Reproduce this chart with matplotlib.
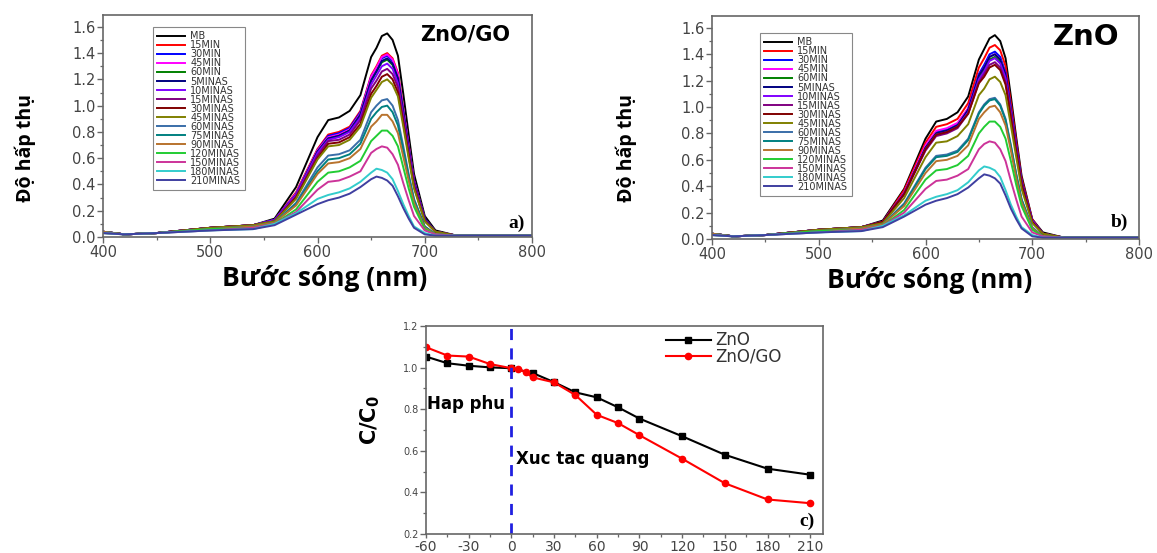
import matplotlib
matplotlib.use("Agg")
import matplotlib.pyplot as plt
from matplotlib.ticker import MultipleLocator

# ---------------- data ----------------
wavelength = [400, 420, 450, 500, 540, 560, 580, 600, 610, 620, 630, 640, 650, 655,
              660, 665, 670, 675, 680, 685, 690, 700, 710, 730, 800]

series_labels = ["MB", "15MIN", "30MIN", "45MIN", "60MIN", "5MINAS", "10MINAS", "15MINAS",
                 "30MINAS", "45MINAS", "60MINAS", "75MINAS", "90MINAS", "120MINAS",
                 "150MINAS", "180MINAS", "210MINAS"]
series_colors = ["#000000", "#FF0000", "#0000FF", "#FF00FF", "#008000", "#000080", "#8000FF",
                 "#800080", "#800000", "#808000", "#3A6EA8", "#008080", "#B8732E", "#22CC33",
                 "#CC3399", "#33CCCC", "#3F3FA0"]

# Panel a) ZnO/GO absorbance
GO_MB = [0.04,0.02,0.03,0.07,0.09,0.14,0.38,0.76,0.89,0.91,0.96,1.08,1.37,1.44,1.53,1.55,1.50,1.38,1.09,0.78,0.48,0.16,0.05,0.01,0.01]
GO_15MIN = [0.04,0.02,0.03,0.07,0.09,0.13,0.34,0.67,0.78,0.80,0.84,0.96,1.23,1.30,1.38,1.40,1.36,1.25,0.98,0.70,0.43,0.14,0.04,0.01,0.01]
GO_30MIN = [0.04,0.02,0.03,0.07,0.09,0.13,0.33,0.66,0.77,0.79,0.83,0.95,1.22,1.28,1.36,1.38,1.34,1.23,0.97,0.69,0.43,0.14,0.04,0.01,0.01]
GO_45MIN = [0.04,0.02,0.03,0.07,0.09,0.13,0.33,0.66,0.76,0.78,0.82,0.94,1.22,1.29,1.37,1.39,1.35,1.24,0.97,0.70,0.43,0.14,0.04,0.01,0.01]
GO_60MIN = [0.04,0.02,0.03,0.07,0.09,0.13,0.32,0.65,0.75,0.77,0.81,0.93,1.19,1.26,1.33,1.35,1.31,1.20,0.95,0.68,0.42,0.14,0.04,0.01,0.01]
GO_5MINAS = [0.04,0.02,0.03,0.07,0.09,0.13,0.32,0.65,0.75,0.77,0.81,0.93,1.19,1.26,1.34,1.36,1.32,1.21,0.95,0.68,0.42,0.14,0.04,0.01,0.01]
GO_10MINAS = [0.04,0.02,0.03,0.07,0.09,0.13,0.32,0.64,0.74,0.76,0.80,0.91,1.16,1.23,1.30,1.32,1.28,1.17,0.92,0.66,0.41,0.13,0.04,0.01,0.01]
GO_15MINAS = [0.04,0.02,0.03,0.07,0.09,0.12,0.31,0.62,0.73,0.74,0.78,0.89,1.13,1.19,1.26,1.28,1.24,1.14,0.90,0.64,0.40,0.13,0.04,0.01,0.01]
GO_30MINAS = [0.04,0.02,0.03,0.07,0.09,0.12,0.30,0.60,0.71,0.72,0.76,0.86,1.09,1.15,1.22,1.24,1.20,1.10,0.87,0.62,0.38,0.12,0.04,0.01,0.01]
GO_45MINAS = [0.04,0.02,0.03,0.07,0.09,0.12,0.29,0.59,0.69,0.70,0.74,0.84,1.06,1.12,1.18,1.20,1.16,1.07,0.84,0.60,0.37,0.12,0.04,0.01,0.01]
GO_60MINAS = [0.04,0.02,0.03,0.06,0.08,0.11,0.26,0.53,0.62,0.63,0.66,0.74,0.95,1.00,1.04,1.05,1.00,0.89,0.69,0.48,0.29,0.08,0.02,0.01,0.01]
GO_75MINAS = [0.04,0.02,0.03,0.06,0.08,0.11,0.25,0.50,0.59,0.60,0.63,0.71,0.90,0.95,0.99,1.00,0.95,0.85,0.66,0.46,0.28,0.08,0.02,0.01,0.01]
GO_90MINAS = [0.04,0.02,0.03,0.06,0.08,0.11,0.24,0.48,0.56,0.57,0.60,0.67,0.84,0.88,0.93,0.93,0.88,0.79,0.61,0.43,0.26,0.07,0.02,0.01,0.01]
GO_120MINAS = [0.03,0.02,0.03,0.06,0.07,0.10,0.21,0.42,0.49,0.50,0.53,0.58,0.73,0.77,0.81,0.81,0.77,0.69,0.53,0.37,0.23,0.06,0.02,0.01,0.01]
GO_150MINAS = [0.03,0.02,0.03,0.05,0.07,0.10,0.19,0.36,0.42,0.43,0.46,0.50,0.64,0.67,0.69,0.68,0.63,0.55,0.41,0.28,0.16,0.05,0.02,0.01,0.01]
GO_180MINAS = [0.03,0.02,0.03,0.05,0.06,0.10,0.18,0.29,0.32,0.34,0.37,0.42,0.49,0.52,0.51,0.49,0.44,0.35,0.25,0.16,0.08,0.03,0.01,0.01,0.01]
GO_210MINAS = [0.03,0.02,0.03,0.05,0.06,0.09,0.17,0.25,0.28,0.30,0.33,0.38,0.44,0.46,0.45,0.43,0.39,0.31,0.22,0.14,0.07,0.02,0.01,0.01,0.01]

# Panel b) ZnO absorbance
ZN_MB = [0.04,0.02,0.03,0.07,0.09,0.14,0.38,0.76,0.89,0.91,0.96,1.08,1.36,1.44,1.52,1.545,1.50,1.37,1.08,0.77,0.48,0.15,0.05,0.01,0.01]
ZN_15MIN = [0.04,0.02,0.03,0.07,0.09,0.13,0.37,0.73,0.85,0.87,0.91,1.03,1.30,1.37,1.45,1.47,1.43,1.31,1.03,0.74,0.46,0.15,0.04,0.01,0.01]
ZN_30MIN = [0.04,0.02,0.03,0.07,0.09,0.13,0.35,0.70,0.81,0.83,0.87,0.99,1.25,1.32,1.40,1.42,1.38,1.26,0.99,0.71,0.44,0.14,0.04,0.01,0.01]
ZN_45MIN = [0.04,0.02,0.03,0.07,0.09,0.13,0.35,0.71,0.82,0.84,0.88,0.99,1.24,1.30,1.38,1.40,1.36,1.25,0.98,0.70,0.43,0.14,0.04,0.01,0.01]
ZN_60MIN = [0.04,0.02,0.03,0.07,0.09,0.13,0.34,0.69,0.80,0.82,0.86,0.97,1.22,1.28,1.36,1.38,1.34,1.23,0.97,0.69,0.43,0.14,0.04,0.01,0.01]
ZN_5MINAS = [0.04,0.02,0.03,0.07,0.09,0.13,0.34,0.69,0.80,0.82,0.86,0.98,1.24,1.30,1.38,1.40,1.36,1.25,0.98,0.70,0.43,0.14,0.04,0.01,0.01]
ZN_10MINAS = [0.04,0.02,0.03,0.07,0.09,0.13,0.34,0.68,0.79,0.81,0.85,0.96,1.21,1.27,1.35,1.37,1.33,1.22,0.96,0.69,0.42,0.14,0.04,0.01,0.01]
ZN_15MINAS = [0.04,0.02,0.03,0.07,0.09,0.13,0.34,0.67,0.78,0.80,0.84,0.95,1.19,1.25,1.32,1.34,1.30,1.19,0.94,0.67,0.42,0.13,0.04,0.01,0.01]
ZN_30MINAS = [0.04,0.02,0.03,0.07,0.09,0.13,0.34,0.68,0.79,0.81,0.85,0.95,1.18,1.23,1.30,1.32,1.28,1.17,0.92,0.66,0.41,0.13,0.04,0.01,0.01]
ZN_45MINAS = [0.04,0.02,0.03,0.07,0.09,0.12,0.31,0.62,0.73,0.74,0.78,0.87,1.09,1.14,1.21,1.23,1.19,1.09,0.86,0.62,0.38,0.12,0.04,0.01,0.01]
ZN_60MINAS = [0.04,0.02,0.03,0.06,0.08,0.11,0.27,0.54,0.63,0.64,0.67,0.76,0.96,1.02,1.06,1.07,1.02,0.91,0.71,0.49,0.30,0.09,0.02,0.01,0.01]
ZN_75MINAS = [0.04,0.02,0.03,0.06,0.08,0.11,0.26,0.53,0.62,0.63,0.66,0.75,0.95,1.01,1.05,1.06,1.01,0.90,0.70,0.49,0.30,0.08,0.02,0.01,0.01]
ZN_90MINAS = [0.04,0.02,0.03,0.06,0.08,0.11,0.25,0.50,0.59,0.60,0.63,0.71,0.91,0.96,1.00,1.01,0.96,0.86,0.67,0.46,0.28,0.08,0.02,0.01,0.01]
ZN_120MINAS = [0.03,0.02,0.03,0.06,0.07,0.10,0.22,0.45,0.52,0.53,0.56,0.63,0.80,0.85,0.89,0.89,0.85,0.76,0.59,0.41,0.25,0.07,0.02,0.01,0.01]
ZN_150MINAS = [0.03,0.02,0.03,0.05,0.07,0.10,0.20,0.38,0.44,0.45,0.48,0.53,0.68,0.72,0.74,0.73,0.68,0.59,0.44,0.30,0.17,0.05,0.02,0.01,0.01]
ZN_180MINAS = [0.03,0.02,0.03,0.05,0.06,0.10,0.18,0.29,0.32,0.34,0.37,0.43,0.52,0.55,0.54,0.52,0.47,0.37,0.26,0.17,0.09,0.03,0.01,0.01,0.01]
ZN_210MINAS = [0.03,0.02,0.03,0.05,0.06,0.09,0.17,0.26,0.29,0.31,0.34,0.39,0.46,0.49,0.48,0.46,0.42,0.33,0.23,0.15,0.08,0.02,0.01,0.01,0.01]

# Panel c) C/C0 vs time
time_zno = [-60, -45, -30, -15, 0, 15, 30, 45, 60, 75, 90, 120, 150, 180, 210]
cc0_zno = [1.053, 1.021, 1.009, 1.001, 0.997, 0.974, 0.930, 0.881, 0.857, 0.809, 0.755, 0.670, 0.581, 0.514, 0.485]
time_zngo = [-60, -45, -30, -15, 0, 5, 10, 15, 30, 45, 60, 75, 90, 120, 150, 180, 210]
cc0_zngo = [1.098, 1.058, 1.053, 1.017, 0.997, 0.994, 0.977, 0.953, 0.929, 0.868, 0.773, 0.733, 0.675, 0.562, 0.444, 0.366, 0.348]
time_ticks = [-60, -30, 0, 30, 60, 90, 120, 150, 180, 210]

spectra_a = [GO_MB, GO_15MIN, GO_30MIN, GO_45MIN, GO_60MIN, GO_5MINAS, GO_10MINAS, GO_15MINAS,
             GO_30MINAS, GO_45MINAS, GO_60MINAS, GO_75MINAS, GO_90MINAS, GO_120MINAS,
             GO_150MINAS, GO_180MINAS, GO_210MINAS]
spectra_b = [ZN_MB, ZN_15MIN, ZN_30MIN, ZN_45MIN, ZN_60MIN, ZN_5MINAS, ZN_10MINAS, ZN_15MINAS,
             ZN_30MINAS, ZN_45MINAS, ZN_60MINAS, ZN_75MINAS, ZN_90MINAS, ZN_120MINAS,
             ZN_150MINAS, ZN_180MINAS, ZN_210MINAS]

# ---------------- style ----------------
plt.rcParams['font.family'] = ['DejaVu Sans']
plt.rcParams['axes.unicode_minus'] = False
SPINE = "#666666"
TICKC = "#444444"
VIET = ['Open Sans', 'DejaVu Sans']
SERIF = ['Liberation Serif', 'DejaVu Serif']

W, H = 1157, 553
fig = plt.figure(figsize=(W / 100, H / 100), dpi=100)


def px_axes(l, t, r, b):
    return fig.add_axes([l / W, 1 - b / H, (r - l) / W, (b - t) / H])


def style_axes(ax, xsize, ysize):
    for s in ax.spines.values():
        s.set_color(SPINE)
        s.set_linewidth(1.2)
    ax.tick_params(which='both', direction='out', colors=SPINE, labelcolor=TICKC)
    ax.tick_params(which='major', length=4, width=1.0)
    ax.tick_params(which='minor', length=2.5, width=0.9)
    ax.tick_params(axis='x', labelsize=xsize, pad=1.5)
    ax.tick_params(axis='y', labelsize=ysize, pad=1.5)


def spectrum_panel(ax, spectra, title, title_size, title_xy, letter, letter_xy, leg_xy,
                   ylab_xy, xlab_xy):
    for vals, lab, col in zip(spectra, series_labels, series_colors):
        ax.plot(wavelength, vals, color=col, lw=1.4, label=lab)
    ax.set_xlim(400, 800)
    ax.set_ylim(0, 1.69)
    ax.xaxis.set_major_locator(MultipleLocator(100))
    ax.xaxis.set_minor_locator(MultipleLocator(50))
    ax.yaxis.set_major_locator(MultipleLocator(0.2))
    ax.yaxis.set_minor_locator(MultipleLocator(0.1))
    ax.yaxis.set_major_formatter(plt.FuncFormatter(lambda v, p: f"{v:.1f}"))
    style_axes(ax, 10.5, 10.5)
    ax.set_xlabel("Bước sóng (nm)", fontsize=19, fontweight='bold', family=VIET)
    ax.set_ylabel("Độ hấp thụ", fontsize=14, fontweight='bold', family=VIET)
    ax.xaxis.set_label_coords(*xlab_xy)
    ax.yaxis.set_label_coords(*ylab_xy)
    ax.text(title_xy[0], title_xy[1], title, transform=ax.transAxes, ha='right', va='center',
            fontsize=title_size, fontweight='bold')
    ax.text(letter_xy[0], letter_xy[1], letter, transform=ax.transAxes, ha='right', va='center',
            fontsize=14, fontweight='bold', family=SERIF)
    leg = ax.legend(loc='upper left', bbox_to_anchor=(leg_xy[0] / W, 1 - leg_xy[1] / H),
                    bbox_transform=fig.transFigure, fontsize=7, handlelength=2.8,
                    handletextpad=0.6, labelspacing=-0.1, borderpad=0.45, fancybox=False,
                    framealpha=1, edgecolor="#888888", borderaxespad=0)
    for t in leg.get_texts():
        t.set_color("#333333")
    leg.get_frame().set_linewidth(0.8)


ax_a = px_axes(103, 15, 532, 237)
spectrum_panel(ax_a, spectra_a, "ZnO/GO", 15, (0.949, 0.91), "a)", (0.984, 0.063),
               (153, 27), (-0.156, 0.40), (0.517, -0.125))

ax_b = px_axes(712, 16, 1139, 239)
spectrum_panel(ax_b, spectra_b, "ZnO", 21, (0.955, 0.906), "b)", (0.974, 0.076),
               (760, 33), (-0.176, 0.41), (0.51, -0.125))

# ---------------- panel c ----------------
ax_c = px_axes(426, 326, 823, 534)
ax_c.plot(time_zno, cc0_zno, color='black', marker='s', ms=4.5, lw=1.5, label='ZnO')
ax_c.plot(time_zngo, cc0_zngo, color='red', marker='o', ms=4.5, lw=1.5, label='ZnO/GO')
ax_c.axvline(0, color='#2020E0', ls=(0, (4, 3)), lw=2)
ax_c.set_xlim(-60, 219)
ax_c.set_ylim(0.2, 1.2)
ax_c.set_xticks(time_ticks)
ax_c.xaxis.set_minor_locator(MultipleLocator(15))
ax_c.yaxis.set_major_locator(MultipleLocator(0.2))
ax_c.yaxis.set_minor_locator(MultipleLocator(0.1))
ax_c.yaxis.set_major_formatter(plt.FuncFormatter(lambda v, p: f"{v:.1f}"))
style_axes(ax_c, 10, 7)
ax_c.tick_params(axis='x', which='major', length=3, pad=1)
ax_c.tick_params(axis='x', which='minor', length=2)
ax_c.set_ylabel("C/C$_\\mathbf{0}$", fontsize=15, fontweight='bold')
ax_c.yaxis.set_label_coords(-0.111, 0.55)
ax_c.text(-59, 0.827, "Hap phu", fontsize=12, fontweight='bold', va='center', ha='left')
ax_c.text(3, 0.559, "Xuc tac quang", fontsize=12, fontweight='bold', va='center', ha='left')
ax_c.text(0.98, 0.062, "c)", transform=ax_c.transAxes, ha='right', va='center',
          fontsize=14, fontweight='bold', family=SERIF)
legc = ax_c.legend(loc='upper left', bbox_to_anchor=(0.595, 0.99), frameon=False, fontsize=12,
                   handlelength=2.7, handletextpad=0.3, labelspacing=-0.1, borderaxespad=0,
                   borderpad=0.2)
for t in legc.get_texts():
    t.set_color("#333333")

fig.savefig("out.png", dpi=100, facecolor='white')
